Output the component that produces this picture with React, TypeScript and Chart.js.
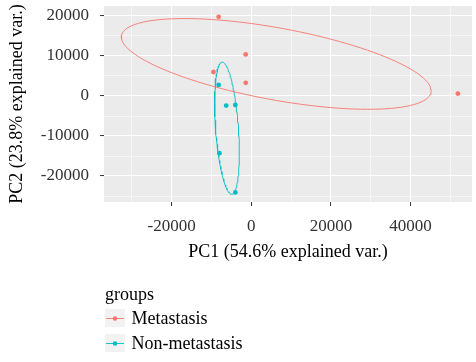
import React, { useEffect, useRef } from "react";
import { Chart, registerables } from "chart.js";
Chart.register(...registerables);

// ---- data ----
const groupNames = ["Metastasis", "Non-metastasis"];
const groupColors = ["#F8766D", "#00BFC4"];
const metX = [-8200, -9500, -1400, -1400, 51900];
const metY = [19800, 6000, 10400, 3300, 600];
const nonX = [-8200, -6300, -4000, -8000, -4000];
const nonY = [2750, -2400, -2250, -14300, -24100];
const xRange = [-37000, 55450];
const yRange = [-26500, 22500];
const xMajorTicks = [-20000, 0, 20000, 40000];
const xMinorTicks = [-30000, -10000, 10000, 30000, 50000];
const yMajorTicks = [-20000, -10000, 0, 10000, 20000];
const yMinorTicks = [-25000, -15000, -5000, 5000, 15000];
const xTitle = "PC1 (54.6% explained var.)";
const yTitle = "PC2 (23.8% explained var.)";
const legendTitle = "groups";
const ellipseProb = 0.68;

const FONT = "'Liberation Serif', 'Times New Roman', serif";

function ellipse(xs: number[], ys: number[]) {
  const n = xs.length;
  const mx = xs.reduce((a, b) => a + b, 0) / n;
  const my = ys.reduce((a, b) => a + b, 0) / n;
  let sxx = 0, syy = 0, sxy = 0;
  for (let i = 0; i < n; i++) {
    const dx = xs[i] - mx, dy = ys[i] - my;
    sxx += dx * dx; syy += dy * dy; sxy += dx * dy;
  }
  sxx /= n - 1; syy /= n - 1; sxy /= n - 1;
  const a = Math.sqrt(sxx);
  const b = sxy / a;
  const c = Math.sqrt(Math.max(syy - b * b, 0));
  const ed = Math.sqrt(-2 * Math.log(1 - ellipseProb));
  const pts: { x: number; y: number }[] = [];
  const N = 120;
  for (let k = 0; k <= N; k++) {
    const t = -Math.PI + (2 * Math.PI * k) / N;
    const ct = Math.cos(t), st = Math.sin(t);
    pts.push({ x: mx + ed * ct * a, y: my + ed * (ct * b + st * c) });
  }
  return pts;
}

const toPts = (xs: number[], ys: number[]) => xs.map((x, i) => ({ x, y: ys[i] }));

const bgPlugin = {
  id: "panelBg",
  beforeDraw(chart: any) {
    const { ctx, chartArea } = chart;
    ctx.save();
    ctx.fillStyle = "#EBEBEB";
    ctx.fillRect(chartArea.left, chartArea.top, chartArea.right - chartArea.left, chartArea.bottom - chartArea.top);
    ctx.restore();
  },
};

const legendPlugin = {
  id: "ggLegend",
  afterDraw(chart: any) {
    const ctx = chart.ctx;
    ctx.save();
    ctx.font = `18px ${FONT}`;
    ctx.fillStyle = "#000";
    ctx.textBaseline = "middle";
    ctx.textAlign = "left";
    ctx.fillText(legendTitle, 105, 295);
    const centers = [318, 343];
    groupNames.forEach((name, i) => {
      const cy = centers[i];
      ctx.fillStyle = "#F2F2F2";
      ctx.fillRect(105, cy - 9, 20, 18);
      ctx.strokeStyle = groupColors[i];
      ctx.lineWidth = 0.9;
      ctx.beginPath();
      ctx.moveTo(106, cy + 0.5);
      ctx.lineTo(124, cy + 0.5);
      ctx.stroke();
      ctx.fillStyle = groupColors[i];
      ctx.beginPath();
      ctx.arc(115, cy + 0.5, 2.3, 0, Math.PI * 2);
      ctx.fill();
      ctx.fillStyle = "#000";
      ctx.font = `18px ${FONT}`;
      ctx.fillText(name, 131.5, cy + 1);
    });
    ctx.restore();
  },
};

const zeroPad = (s: any) => {
  s.paddingTop = 0;
  s.paddingBottom = 0;
  s.paddingLeft = 0;
  s.paddingRight = 0;
};

export default function App() {
  const ref = useRef<HTMLCanvasElement>(null);
  useEffect(() => {
    if (!ref.current) return;
    const isMajorX = (v: number) => xMajorTicks.includes(v);
    const isMajorY = (v: number) => yMajorTicks.includes(v);
    const chart = new Chart(ref.current, {
      type: "scatter",
      data: {
        datasets: [
          {
            label: "ell-met",
            data: ellipse(metX, metY),
            showLine: true,
            borderColor: groupColors[0],
            borderWidth: 0.9,
            pointRadius: 0,
            tension: 0,
          } as any,
          {
            label: "ell-non",
            data: ellipse(nonX, nonY),
            showLine: true,
            borderColor: groupColors[1],
            borderWidth: 0.9,
            pointRadius: 0,
            tension: 0,
          } as any,
          {
            label: groupNames[0],
            data: toPts(metX, metY),
            pointRadius: 2.4,
            pointBackgroundColor: groupColors[0],
            pointBorderWidth: 0,
            borderColor: groupColors[0],
          },
          {
            label: groupNames[1],
            data: toPts(nonX, nonY),
            pointRadius: 2.4,
            pointBackgroundColor: groupColors[1],
            pointBorderWidth: 0,
            borderColor: groupColors[1],
          },
        ],
      },
      options: {
        animation: false,
        responsive: false,
        events: [],
        layout: { padding: { left: 0, top: 6, right: 0, bottom: 99 } },
        plugins: { legend: { display: false }, tooltip: { enabled: false } },
        scales: {
          x: {
            type: "linear",
            min: xRange[0],
            max: xRange[1],
            border: { display: false },
            afterBuildTicks: (s: any) => {
              s.ticks = [...xMajorTicks, ...xMinorTicks].sort((a, b) => a - b).map((v) => ({ value: v }));
            },
            grid: {
              color: "#FFFFFF",
              lineWidth: (c: any) => (c.tick && isMajorX(c.tick.value) ? 1.1 : 0.55),
              tickColor: (c: any) => (c.tick && isMajorX(c.tick.value) ? "#333333" : "rgba(0,0,0,0)"),
              tickWidth: 1,
              tickLength: 4,
            },
            ticks: {
              autoSkip: false,
              maxRotation: 0,
              padding: 10,
              color: "#333333",
              font: { family: FONT, size: 17 },
              callback: (v: any) => (isMajorX(Number(v)) ? String(v) : ""),
            },
            title: {
              display: true,
              text: xTitle,
              color: "#000",
              font: { family: FONT, size: 18 },
              padding: { top: 0, bottom: 0 },
            },
            afterFit: (s: any) => {
              s.height = 61;
              zeroPad(s);
            },
          },
          y: {
            type: "linear",
            min: yRange[0],
            max: yRange[1],
            border: { display: false },
            afterBuildTicks: (s: any) => {
              s.ticks = [...yMajorTicks, ...yMinorTicks].sort((a, b) => a - b).map((v) => ({ value: v }));
            },
            grid: {
              color: "#FFFFFF",
              lineWidth: (c: any) => (c.tick && isMajorY(c.tick.value) ? 1.1 : 0.55),
              tickColor: (c: any) => (c.tick && isMajorY(c.tick.value) ? "#333333" : "rgba(0,0,0,0)"),
              tickWidth: 1,
              tickLength: 4,
            },
            ticks: {
              autoSkip: false,
              padding: 11,
              color: "#333333",
              font: { family: FONT, size: 17 },
              callback: (v: any) => (isMajorY(Number(v)) ? String(v) : ""),
            },
            title: {
              display: true,
              text: yTitle,
              color: "#000",
              font: { family: FONT, size: 18 },
              padding: { top: 6, bottom: 0 },
            },
            afterFit: (s: any) => {
              s.width = 104;
              zeroPad(s);
            },
          },
        },
      } as any,
      plugins: [bgPlugin, legendPlugin],
    });
    return () => chart.destroy();
  }, []);
  return (
    <div style={{ position: "absolute", left: 0, top: 0, width: 476, height: 362, background: "#fff" }}>
      <canvas ref={ref} width={476} height={362} style={{ display: "block" }} />
    </div>
  );
}
